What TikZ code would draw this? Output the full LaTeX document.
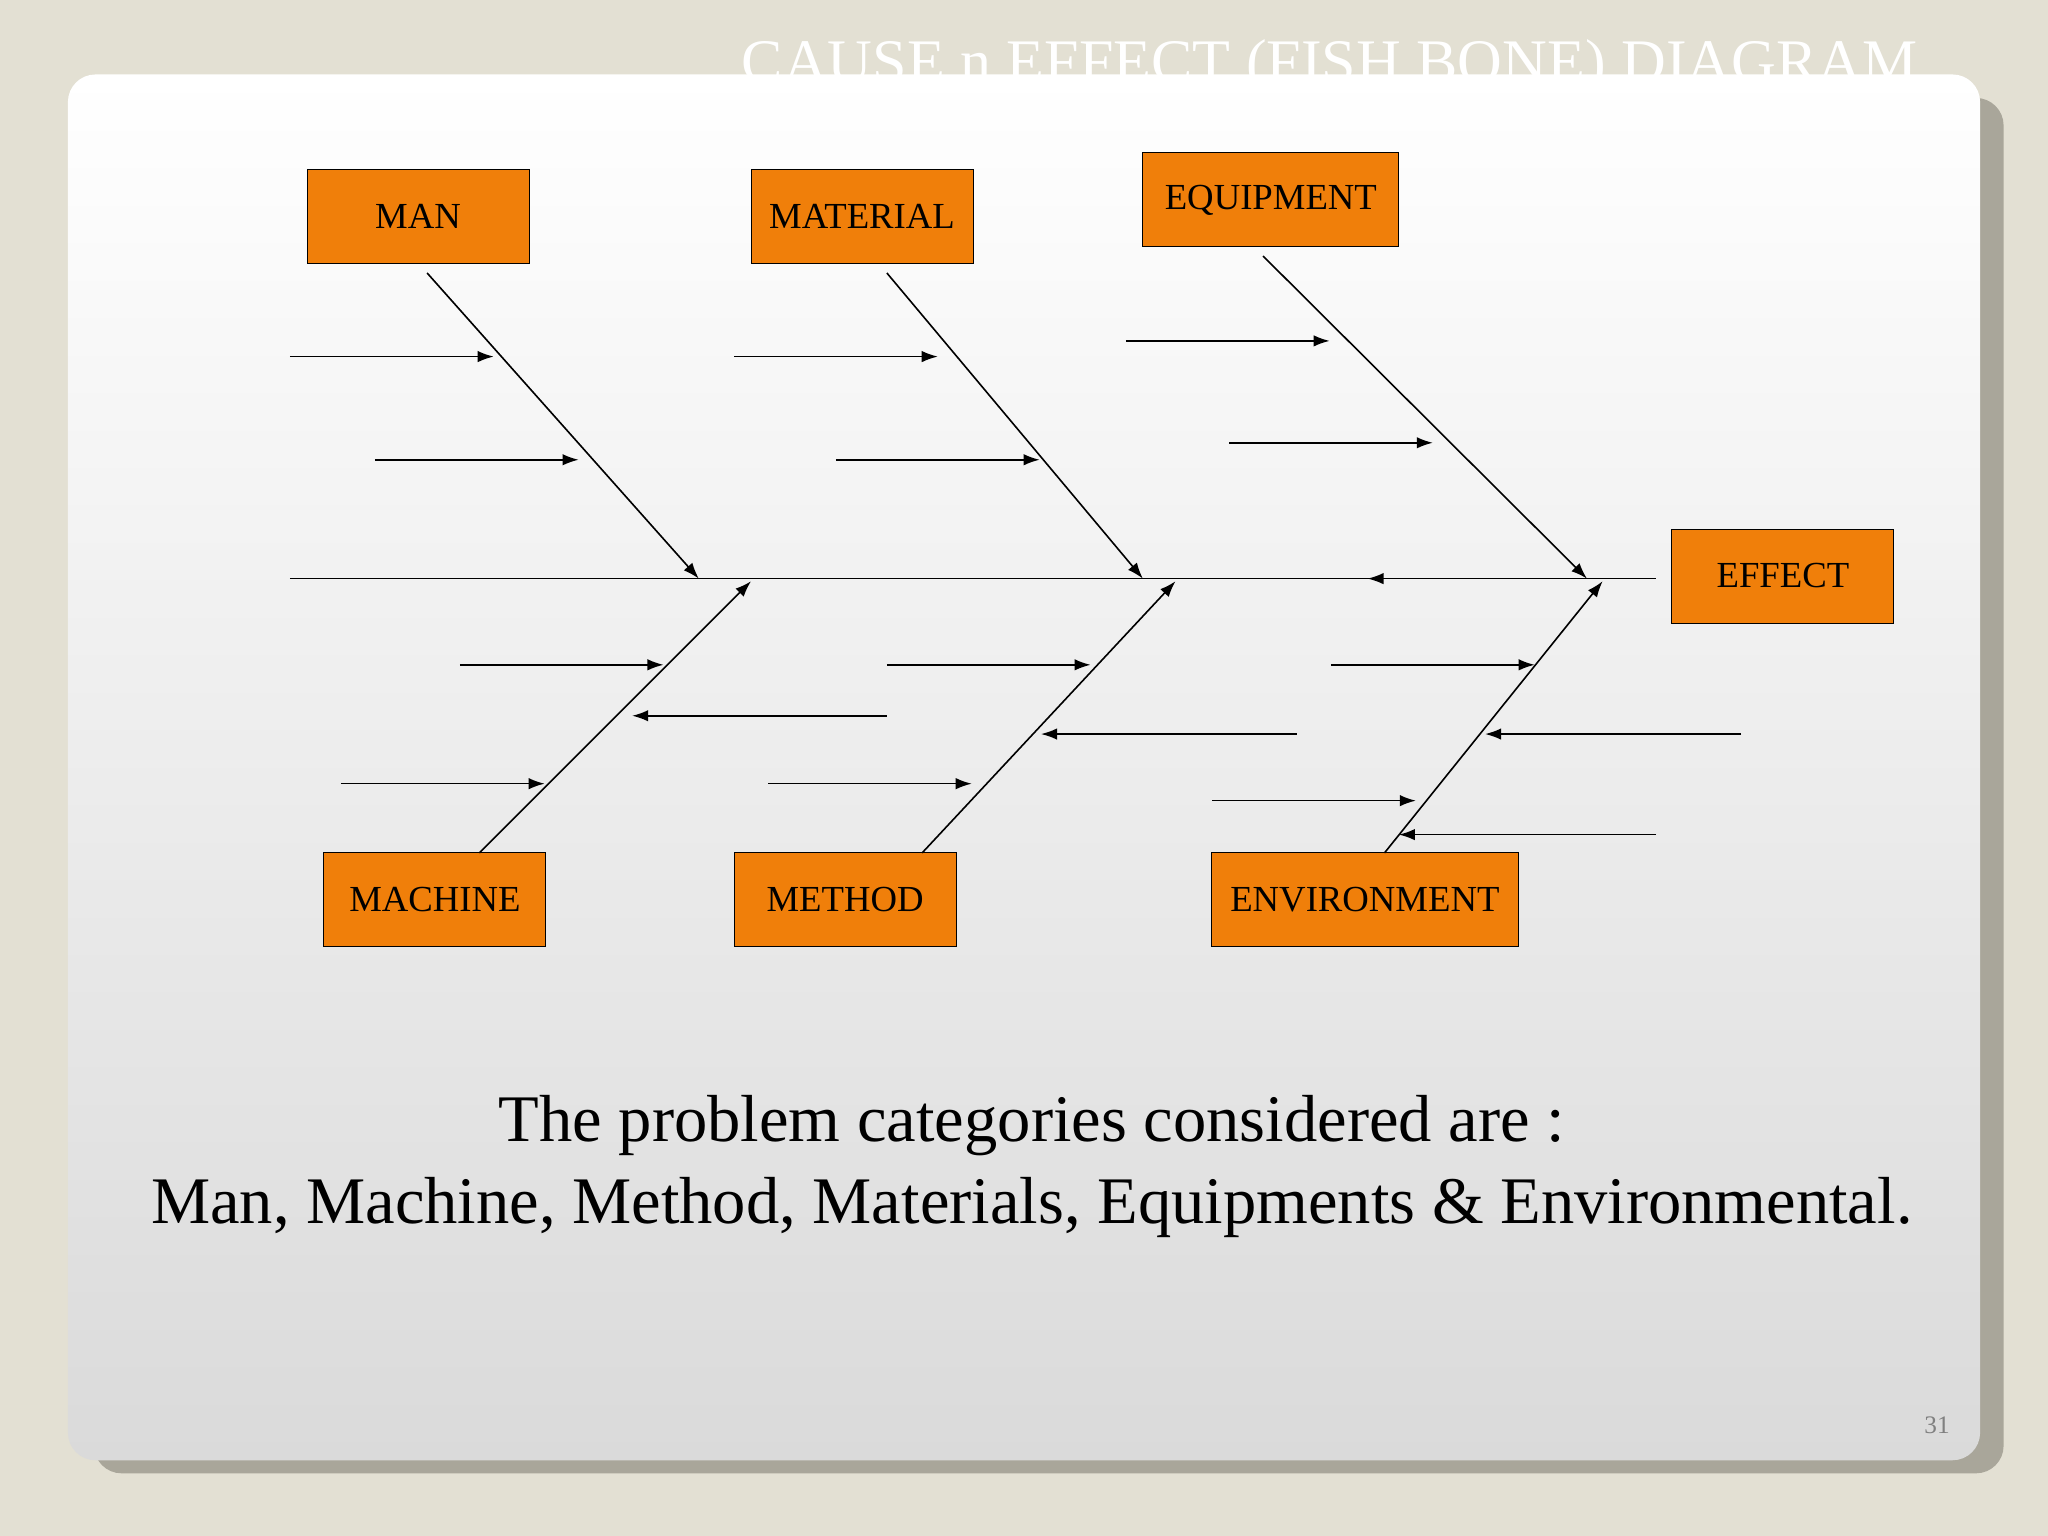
\documentclass[tikz,border=0pt]{standalone}
\usepackage{fontspec}
\setmainfont{Liberation Serif}
\usetikzlibrary{arrows.meta}
\definecolor{bg}{HTML}{E3E0D3}
\definecolor{shad}{HTML}{A9A69A}
\definecolor{org}{HTML}{F07F0A}
\definecolor{cardbot}{HTML}{DADADA}
\begin{document}
\begin{tikzpicture}[x=0.02cm,y=-0.02cm,
  cat/.style={draw=black,fill=org,minimum width=3.4cm,minimum height=1.44cm,font=\fontsize{16}{18}\selectfont,inner sep=1pt},
  bone/.style={draw=black,line width=0.7pt,-{Latex[length=7pt,width=5pt]}},
  sub/.style={draw=black,line width=0.7pt,-{Latex[length=7pt,width=5pt]}}]
\fill[bg] (0,0) rectangle (1568,1176);
\useasboundingbox (0,0) rectangle (1568,1176);
\node[white,font=\fontsize{27}{30}\selectfont,anchor=center] (title) at (1018,52) {CAUSE  n  EFFECT (FISH BONE) DIAGRAM};
\fill[shad,rounded corners=12pt] (72,75) rectangle (1534,1128);
\shade[top color=white,bottom color=cardbot,rounded corners=12pt] (52,57) rectangle (1516,1118);
% boxes
\node[cat] (man) at (320,166) {MAN};
\node[cat] (mat) at (660,166) {MATERIAL};
\node[cat,minimum width=3.92cm] (equ) at (973,153) {EQUIPMENT};
\node[cat] (eff) at (1365,441) {EFFECT};
\node[cat] (mac) at (333,689) {MACHINE};
\node[cat] (met) at (647,689) {METHOD};
\node[cat,minimum width=4.7cm] (env) at (1045,689) {ENVIRONMENT};
% spine
\coordinate (s0) at (222,443); \coordinate (s1) at (1268,443);
\draw[line width=0.7pt] (s0) -- (s1);
\coordinate (ea) at (1240,443); \coordinate (eb) at (1047,443);
\draw[sub] (ea) -- (eb);
% bones
\coordinate (b1) at (327,209); \coordinate (e1) at (535,443);
\coordinate (b2) at (679,209); \coordinate (e2) at (875,443);
\coordinate (b3) at (967,196); \coordinate (e3) at (1215,443);
\coordinate (b4) at (367,653); \coordinate (e4) at (575,445);
\coordinate (b5) at (706,653); \coordinate (e5) at (900,445);
\coordinate (b6) at (1060,653); \coordinate (e6) at (1227,445);
\foreach \i in {1,...,6} {\draw[bone] (b\i) -- (e\i);}
% sub arrows
\foreach \a/\b/\y [count=\k] in {222/378/273, 287/443/352, 562/718/273, 640/796/352, 862/1018/261, 941/1097/339,
  352/508/509, 679/484/548, 261/417/600, 679/835/509, 993/797/562, 588/744/600,
  1019/1175/509, 1333/1137/562, 928/1084/613, 1268/1071/639}
  {\coordinate (p\k) at (\a,\y); \coordinate (q\k) at (\b,\y); \draw[sub] (p\k) -- (q\k);}
\node[font=\fontsize{29}{36}\selectfont,align=center] (txt) at (790,893) {The problem categories considered are :\\Man, Machine, Method, Materials, Equipments \& Environmental.};
\node[gray,font=\fontsize{11}{12}\selectfont] (pg) at (1483,1091) {31};
\end{tikzpicture}
\end{document}
